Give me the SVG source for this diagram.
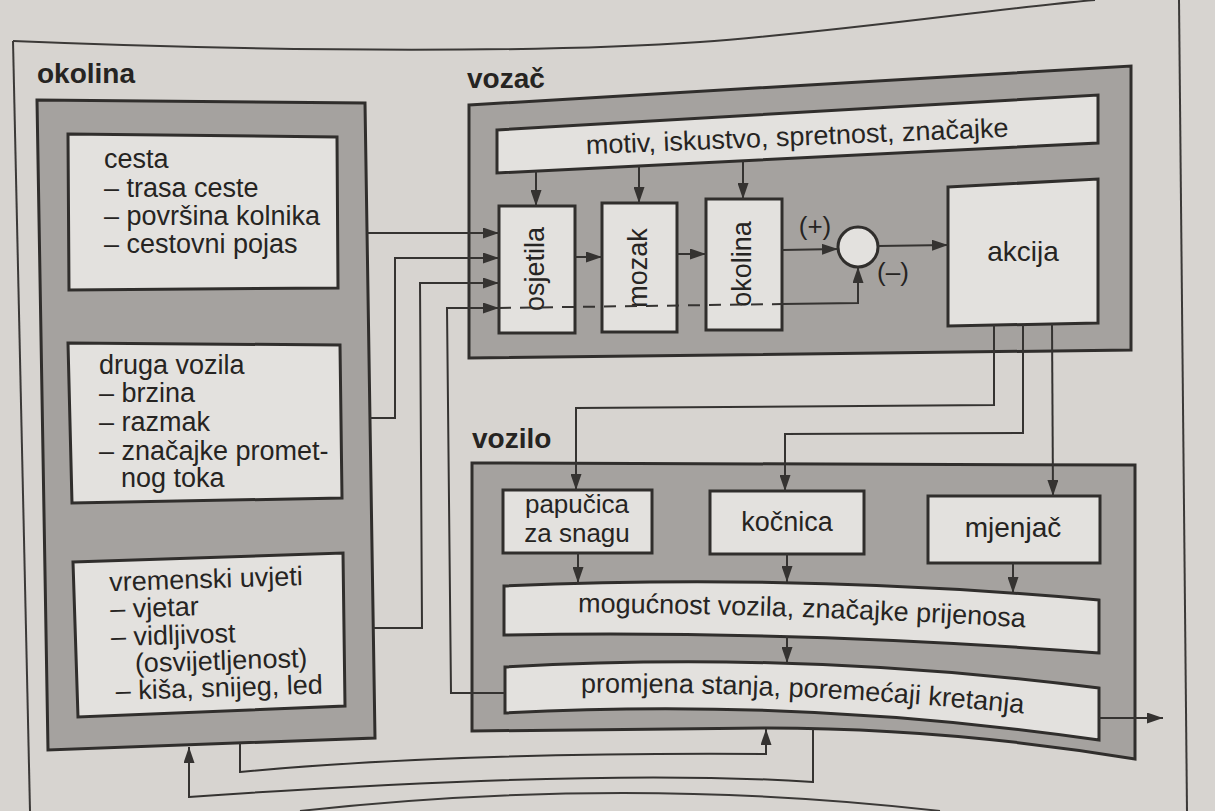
<svg xmlns="http://www.w3.org/2000/svg" width="1215" height="811" viewBox="0 0 1215 811">
<defs>
<style>
.frame{fill:none;stroke:#3b3937;stroke-width:2}
.band{fill:#a5a29f;stroke:#302e2c;stroke-width:3}
.box{fill:#e3e1de;stroke:#302e2c;stroke-width:3}
.conn{fill:none;stroke:#353331;stroke-width:2}
.dash{fill:none;stroke:#353331;stroke-width:2;stroke-dasharray:12 9}
.arr{marker-end:url(#ah)}
text{font-family:"Liberation Sans",Arial,Helvetica,sans-serif;fill:#262422}
.t{font-size:27px}
.s{font-size:26px}
.title{font-size:28px;font-weight:bold}
.c{text-anchor:middle}
</style>
<marker id="ah" viewBox="0 0 16 11" refX="16" refY="5.5" markerWidth="16" markerHeight="11" markerUnits="userSpaceOnUse" orient="auto">
<path d="M0,0 L16,5.5 L0,11 Z" fill="#353331"/>
</marker>
<path id="motivPath" d="M497,158 L1098,133"/>
<path id="mogPath" d="M504,612 Q801,612 1099,632"/>
<path id="promPath" d="M505,694 Q801,686 1099,722"/>
</defs>
<rect x="0" y="0" width="1215" height="811" fill="#d7d4d0"/>

<g id="page-frame">
<path class="frame" d="M13,41 C300,53 560,52 700,42 S1000,8 1095,0"/>
<path class="frame" d="M13,41 L30,811"/>
<path class="frame" d="M1179,0 L1187,811"/>
<path class="frame" d="M300,811 Q626,775 940,811"/>
</g>

<g id="okolina">
<text class="title" x="37" y="83">okolina</text>
<polygon class="band" points="37,100 365,103 375,738 48,750"/>
</g>
<g id="cesta">
<polygon class="box" points="68,134 337,137 338,288 69,290"/>
<text class="t" x="104" y="168">cesta</text>
<text class="t" x="104" y="197">– trasa ceste</text>
<text class="t" x="104" y="225">– površina kolnika</text>
<text class="t" x="104" y="253">– cestovni pojas</text>
</g>
<g id="druga-vozila">
<polygon class="box" points="68,343 340,345 342,498 72,503"/>
<text class="t" x="99" y="374">druga vozila</text>
<text class="t" x="99" y="402">– brzina</text>
<text class="t" x="99" y="431">– razmak</text>
<text class="t" x="99" y="460">– značajke promet-</text>
<text class="t" x="121" y="487">nog toka</text>
</g>
<g id="vremenski-uvjeti">
<polygon class="box" points="73,562 343,553 345,706 78,717"/>
<g transform="rotate(-1.8 210 635)">
<text class="t" x="111" y="588">vremenski uvjeti</text>
<text class="t" x="111" y="615">– vjetar</text>
<text class="t" x="111" y="643">– vidljivost</text>
<text class="t" x="134" y="670">(osvijetljenost)</text>
<text class="t" x="114" y="697">– kiša, snijeg, led</text>
</g>
</g>

<g id="vozac">
<text class="title" x="467" y="88">vozač</text>
<polygon class="band" points="469,105 1131,66 1131,350 469,358"/>
</g>
<g id="motiv">
<polygon class="box" points="497,130 1098,95 1098,143 497,173"/>
<text class="t c"><textPath href="#motivPath" startOffset="50%">motiv, iskustvo, spretnost, značajke</textPath></text>
</g>
<g id="osjetila">
<rect class="box" x="499" y="206" width="76" height="127"/>
<text class="t c" x="544" y="269" transform="rotate(-90 544 269)">osjetila</text>
</g>
<g id="mozak">
<rect class="box" x="602" y="203" width="75" height="129"/>
<text class="t c" x="647" y="268" transform="rotate(-90 647 268)">mozak</text>
</g>
<g id="okolina-percepcija">
<rect class="box" x="706" y="199" width="76" height="131"/>
<text class="t c" x="751" y="264" transform="rotate(-90 751 264)">okolina</text>
</g>
<g id="usporedba">
<circle cx="858" cy="247" r="20" fill="#e3e1de" stroke="#302e2c" stroke-width="3"/>
<text class="s c" x="815" y="235">(+)</text>
<text class="s c" x="893" y="281">(–)</text>
</g>
<g id="akcija">
<polygon class="box" points="948,187 1098,179 1098,323 948,326"/>
<text class="c" style="font-size:28px" x="1023" y="261">akcija</text>
</g>

<g id="vozilo">
<text class="title" x="472" y="448">vozilo</text>
<path class="band" d="M472,463 L1135,465 L1135,759 C1020,740 900,728 766,728 L472,731 Z"/>
</g>
<g id="papucica">
<rect class="box" x="503" y="490" width="149" height="63"/>
<text class="s c" x="577" y="513">papučica</text>
<text class="s c" x="577" y="542">za snagu</text>
</g>
<g id="kocnica">
<rect class="box" x="710" y="491" width="154" height="63"/>
<text class="t c" x="787" y="531">kočnica</text>
</g>
<g id="mjenjac">
<rect class="box" x="928" y="496" width="172" height="67"/>
<text class="c" style="font-size:28px" x="1013" y="537">mjenjač</text>
</g>
<g id="mogucnost">
<path class="box" d="M504,586 Q801,573 1099,600 L1099,653 Q801,630 504,635 Z"/>
<text class="t c"><textPath href="#mogPath" startOffset="50%">mogućnost vozila, značajke prijenosa</textPath></text>
</g>
<g id="promjena">
<path class="box" d="M505,667 Q801,650 1099,688 L1099,740 Q801,697 505,713 Z"/>
<text class="t c"><textPath href="#promPath" startOffset="50%">promjena stanja, poremećaji kretanja</textPath></text>
</g>

<g id="connectors">
<path class="conn arr" d="M367,233 L499,233"/>
<path class="conn arr" d="M370,418 L395,418 L395,258 L499,258"/>
<path class="conn arr" d="M373,628 L422,628 L420,283 L499,283"/>
<path class="conn arr" d="M505,693 L451,693 L447,308 L499,308"/>
<path class="conn arr" d="M536,171 L536,206"/>
<path class="conn arr" d="M639,166 L639,203"/>
<path class="conn arr" d="M743,161 L743,199"/>
<path class="conn arr" d="M575,257 L602,257"/>
<path class="conn arr" d="M677,254 L706,254"/>
<path class="conn arr" d="M782,250 L838,249"/>
<path class="conn arr" d="M878,246 L948,245"/>
<path class="dash" d="M499,308 L782,304"/>
<path class="conn arr" d="M782,304 L858,303 L858,267"/>
<path class="conn arr" d="M994,325 L994,405 L576,408 L576,490"/>
<path class="conn arr" d="M1023,325 L1023,433 L785,434 L785,491"/>
<path class="conn arr" d="M1052,324 L1053,496"/>
<path class="conn arr" d="M578,553 L578,583"/>
<path class="conn arr" d="M787,554 L787,582"/>
<path class="conn arr" d="M1013,563 L1013,593"/>
<path class="conn arr" d="M787,636 L787,663"/>
<path class="conn arr" d="M1099,718 L1163,718"/>
<path class="conn arr" d="M813,729 L813,782 Q600,768 189,797 L189,747"/>
<path class="conn arr" d="M240,743 L240,772 Q450,752 766,754 L766,729"/>
</g>
</svg>
